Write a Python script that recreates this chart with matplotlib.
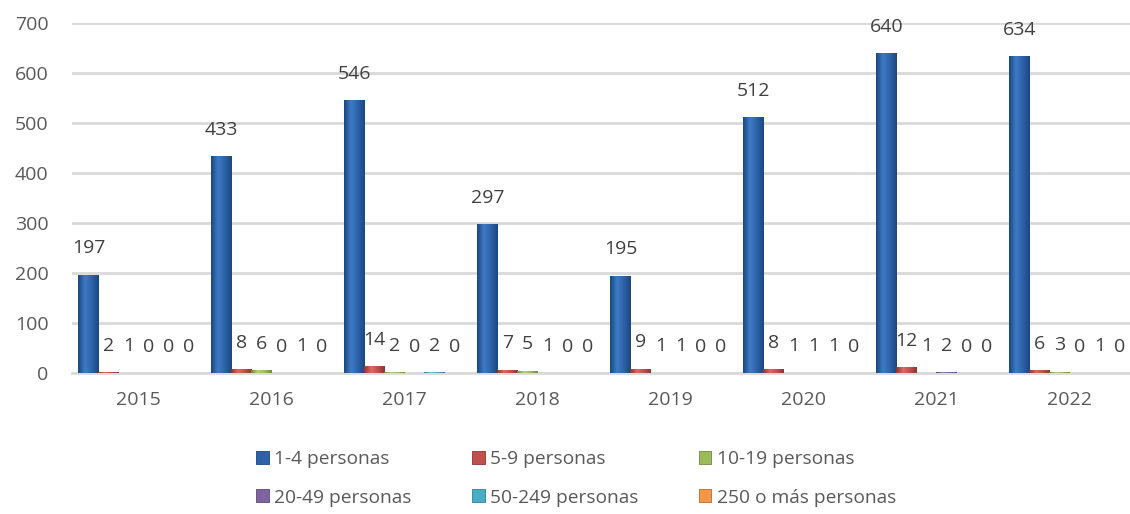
import numpy as np
import matplotlib.pyplot as plt
from matplotlib.colors import LinearSegmentedColormap

# ============================================================
# DATA
# ============================================================

YEARS = ["2015", "2016", "2017", "2018", "2019", "2020", "2021", "2022"]
SERIES = ["1-4 personas", "5-9 personas", "10-19 personas",
          "20-49 personas", "50-249 personas", "250 o más personas"]

p_1_4 = [197, 433, 546, 297, 195, 512, 640, 634]
p_5_9 = [2, 8, 14, 7, 9, 8, 12, 6]
p_10_19 = [1, 6, 2, 5, 1, 1, 1, 3]
p_20_49 = [0, 0, 0, 1, 1, 1, 2, 0]
p_50_249 = [0, 1, 2, 0, 0, 1, 0, 1]
p_250 = [0, 0, 0, 0, 0, 0, 0, 0]

VALUES = [p_1_4, p_5_9, p_10_19, p_20_49, p_50_249, p_250]
COLORS = ["#2E62A8", "#C0504D", "#9BBB59", "#8064A2", "#4BACC6", "#F79646"]
DARK = ["#1C477F", "#8E3431", "#71893F", "#5C4776", "#327F93", "#B86C2C"]
LIGHT = ["#3F7BC6", "#E06662", "#B3D46E", "#9A7DBD", "#67C6DF", "#FFAF66"]

TEXT = "#595959"
GRID = "#D9D9D9"

plt.rcParams["font.family"] = ["Open Sans", "DejaVu Sans"]

# ============================================================
# PLOT
# ============================================================

fig = plt.figure(figsize=(11.3, 5.14), dpi=100)
ax = fig.add_axes([0.0637, 0.2743, 0.9416, 0.681])

x = np.arange(len(YEARS))
w = 20 / 133
grad = np.linspace(0, 1, 64).reshape(1, -1)

handles = []
for j, vals in enumerate(VALUES):
    pos = x + (j - 2.5) * w
    bars = ax.bar(pos, vals, width=w, color=COLORS[j], edgecolor=DARK[j],
                  linewidth=0.6, label=SERIES[j], zorder=3)
    handles.append(bars)
    # bevel-like shading across each bar
    cmap = LinearSegmentedColormap.from_list(
        f"bev{j}", [DARK[j], LIGHT[j], COLORS[j], DARK[j]])
    for b, xp, v in zip(bars, pos, vals):
        if v > 0:
            im = ax.imshow(grad, cmap=cmap, aspect="auto", zorder=3.5,
                           extent=(xp - w / 2, xp + w / 2, 0, v))
            im.set_clip_path(b)
        ax.annotate(str(v), (xp, v), xytext=(0, 19), textcoords="offset points",
                    ha="center", va="center", fontsize=14, color="#404040",
                    annotation_clip=False, zorder=4)

ax.set_xlim(-0.5, len(YEARS) - 0.5)
ax.set_ylim(0, 700)
ax.set_yticks(range(0, 701, 100))
ax.set_xticks(x)
ax.set_xticklabels(YEARS)
ax.yaxis.grid(True, color=GRID, linewidth=2)
ax.set_axisbelow(True)
for s in ["top", "right", "left"]:
    ax.spines[s].set_visible(False)
ax.spines["bottom"].set_color(GRID)
ax.spines["bottom"].set_linewidth(2)
ax.tick_params(axis="y", length=0, pad=17, labelsize=14, labelcolor=TEXT)
ax.tick_params(axis="x", length=0, pad=13, labelsize=14, labelcolor=TEXT)

# legend rows: 3 entries each, filled row-wise
order = [0, 3, 1, 4, 2, 5]
fig.legend([handles[i] for i in order], [SERIES[i] for i in order],
           ncol=3, loc="center", bbox_to_anchor=(0.51, 0.069), frameon=False,
           fontsize=13.8, labelcolor=TEXT, handlelength=0.65, handleheight=0.65,
           handletextpad=0.3, columnspacing=3.15, labelspacing=1.05)

fig.savefig("out.png", dpi=100)
